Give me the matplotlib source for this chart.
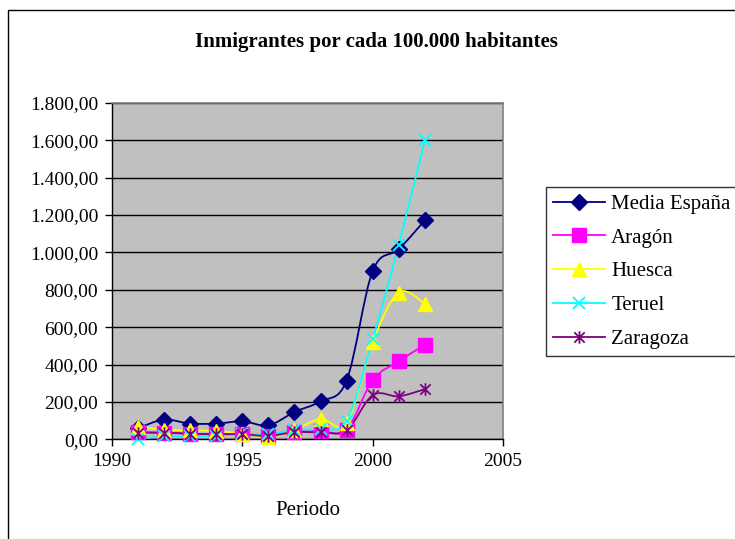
import matplotlib
matplotlib.use("Agg")
from matplotlib import pyplot as plt
from matplotlib.path import Path
from matplotlib.patches import PathPatch, Rectangle
from matplotlib.lines import Line2D
from matplotlib.ticker import FuncFormatter
import numpy as np

plt.rcParams["font.family"] = ["Liberation Serif", "DejaVu Serif"]

years = [1991, 1992, 1993, 1994, 1995, 1996, 1997, 1998, 1999, 2000, 2001, 2002]
media_espana = [60, 105, 84, 84, 96, 75, 146, 203, 314, 900, 1016, 1171]
aragon = [38, 36, 30, 27, 30, 20, 40, 45, 52, 316, 418, 504]
huesca = [66, 52, 48, 44, 30, 12, 48, 110, 87, 520, 785, 725]
teruel = [4, 15, 15, 20, 30, 28, 50, 57, 100, 535, 1040, 1600]
zaragoza = [35, 35, 30, 27, 27, 18, 38, 38, 48, 236, 230, 268]

series_names = ["Media España", "Aragón", "Huesca", "Teruel", "Zaragoza"]
series_values = [media_espana, aragon, huesca, teruel, zaragoza]

# excel style asterisk: an x with a vertical bar
asterisk = Path(
    [(-1, -1), (1, 1), (-1, 1), (1, -1), (0, -1.2), (0, 1.2)],
    [Path.MOVETO, Path.LINETO, Path.MOVETO, Path.LINETO, Path.MOVETO, Path.LINETO],
)

styles = [
    dict(color="#000080", marker="D", ms=8, mfc="#000080", mec="#000080", mew=1),
    dict(color="#FF00FF", marker="s", ms=10, mfc="#FF00FF", mec="#FF00FF", mew=1),
    dict(color="#FFFF00", marker="^", ms=10, mfc="#FFFF00", mec="#FFFF00", mew=1),
    dict(color="#00FFFF", marker="x", ms=9, mfc="none", mec="#00FFFF", mew=1.3),
    dict(color="#800080", marker=asterisk, ms=9, mfc="none", mec="#800080", mew=1.3),
]


def smooth_path(x, y):
    # catmull-rom style bezier, the way excel smooths its lines
    pts = np.column_stack([x, y]).astype(float)
    ext = np.vstack([pts[0], pts, pts[-1]])
    verts = [tuple(pts[0])]
    codes = [Path.MOVETO]
    for i in range(len(pts) - 1):
        p0, p1, p2, p3 = ext[i], ext[i + 1], ext[i + 2], ext[i + 3]
        c1 = p1 + (p2 - p0) / 6
        c2 = p2 - (p3 - p1) / 6
        verts += [tuple(c1), tuple(c2), tuple(p2)]
        codes += [Path.CURVE4] * 3
    return Path(verts, codes)


fig = plt.figure(figsize=(7.35, 5.39), dpi=100)
fig.patch.set_facecolor("white")

# outer chart border
fig.add_artist(
    Rectangle((8 / 735, -0.1), 1.2, 1 - 10 / 539 + 0.1, transform=fig.transFigure,
              fill=False, edgecolor="black", lw=1.0)
)

ax = fig.add_axes([112 / 735, 1 - 439.3 / 539, 391 / 735, 336.6 / 539])
ax.set_facecolor("#C0C0C0")

handles = []
for name, vals, st in zip(series_names, series_values, styles):
    ax.add_patch(PathPatch(smooth_path(years, vals), fill=False,
                           edgecolor=st["color"], lw=1.3, zorder=3))
    ax.plot(years, vals, linestyle="none", marker=st["marker"], ms=st["ms"],
            mfc=st["mfc"], mec=st["mec"], mew=st["mew"], zorder=4, clip_on=False)
    handles.append(Line2D([], [], color=st["color"], lw=1.3, marker=st["marker"],
                          ms=st["ms"], mfc=st["mfc"], mec=st["mec"], mew=st["mew"],
                          label=name))

ax.set_xlim(1990, 2005)
ax.set_ylim(0, 1800)
ax.set_xticks([1990, 1995, 2000, 2005])
ax.set_yticks(np.arange(0, 1801, 200))
ax.yaxis.set_major_formatter(
    FuncFormatter(lambda v, p: "{:,.2f}".format(v).replace(",", "X").replace(".", ",").replace("X", "."))
)
ax.grid(axis="y", color="black", lw=1.0)
ax.set_axisbelow(True)
for side in ["top", "right"]:
    ax.spines[side].set_color("#808080")
    ax.spines[side].set_linewidth(1.2)
for side in ["left", "bottom"]:
    ax.spines[side].set_color("black")
    ax.spines[side].set_linewidth(1.0)
ax.tick_params(direction="out", length=5, width=1, labelsize=14, pad=5)
ax.set_xlabel("Periodo", fontsize=15, labelpad=22)

fig.text(376 / 735, 1 - 42 / 539, "Inmigrantes por cada 100.000 habitantes",
         ha="center", va="center", fontsize=15, fontweight="bold")

leg = fig.legend(handles=handles, loc="upper left",
                 bbox_to_anchor=(545.5 / 735, 1 - 187 / 539),
                 fontsize=15, frameon=True, fancybox=False, edgecolor="black",
                 handlelength=2.5, handletextpad=0.3, labelspacing=0.68,
                 borderpad=0.35, borderaxespad=0.0)
leg.get_frame().set_linewidth(1.0)

fig.savefig("out.png", dpi=100)
